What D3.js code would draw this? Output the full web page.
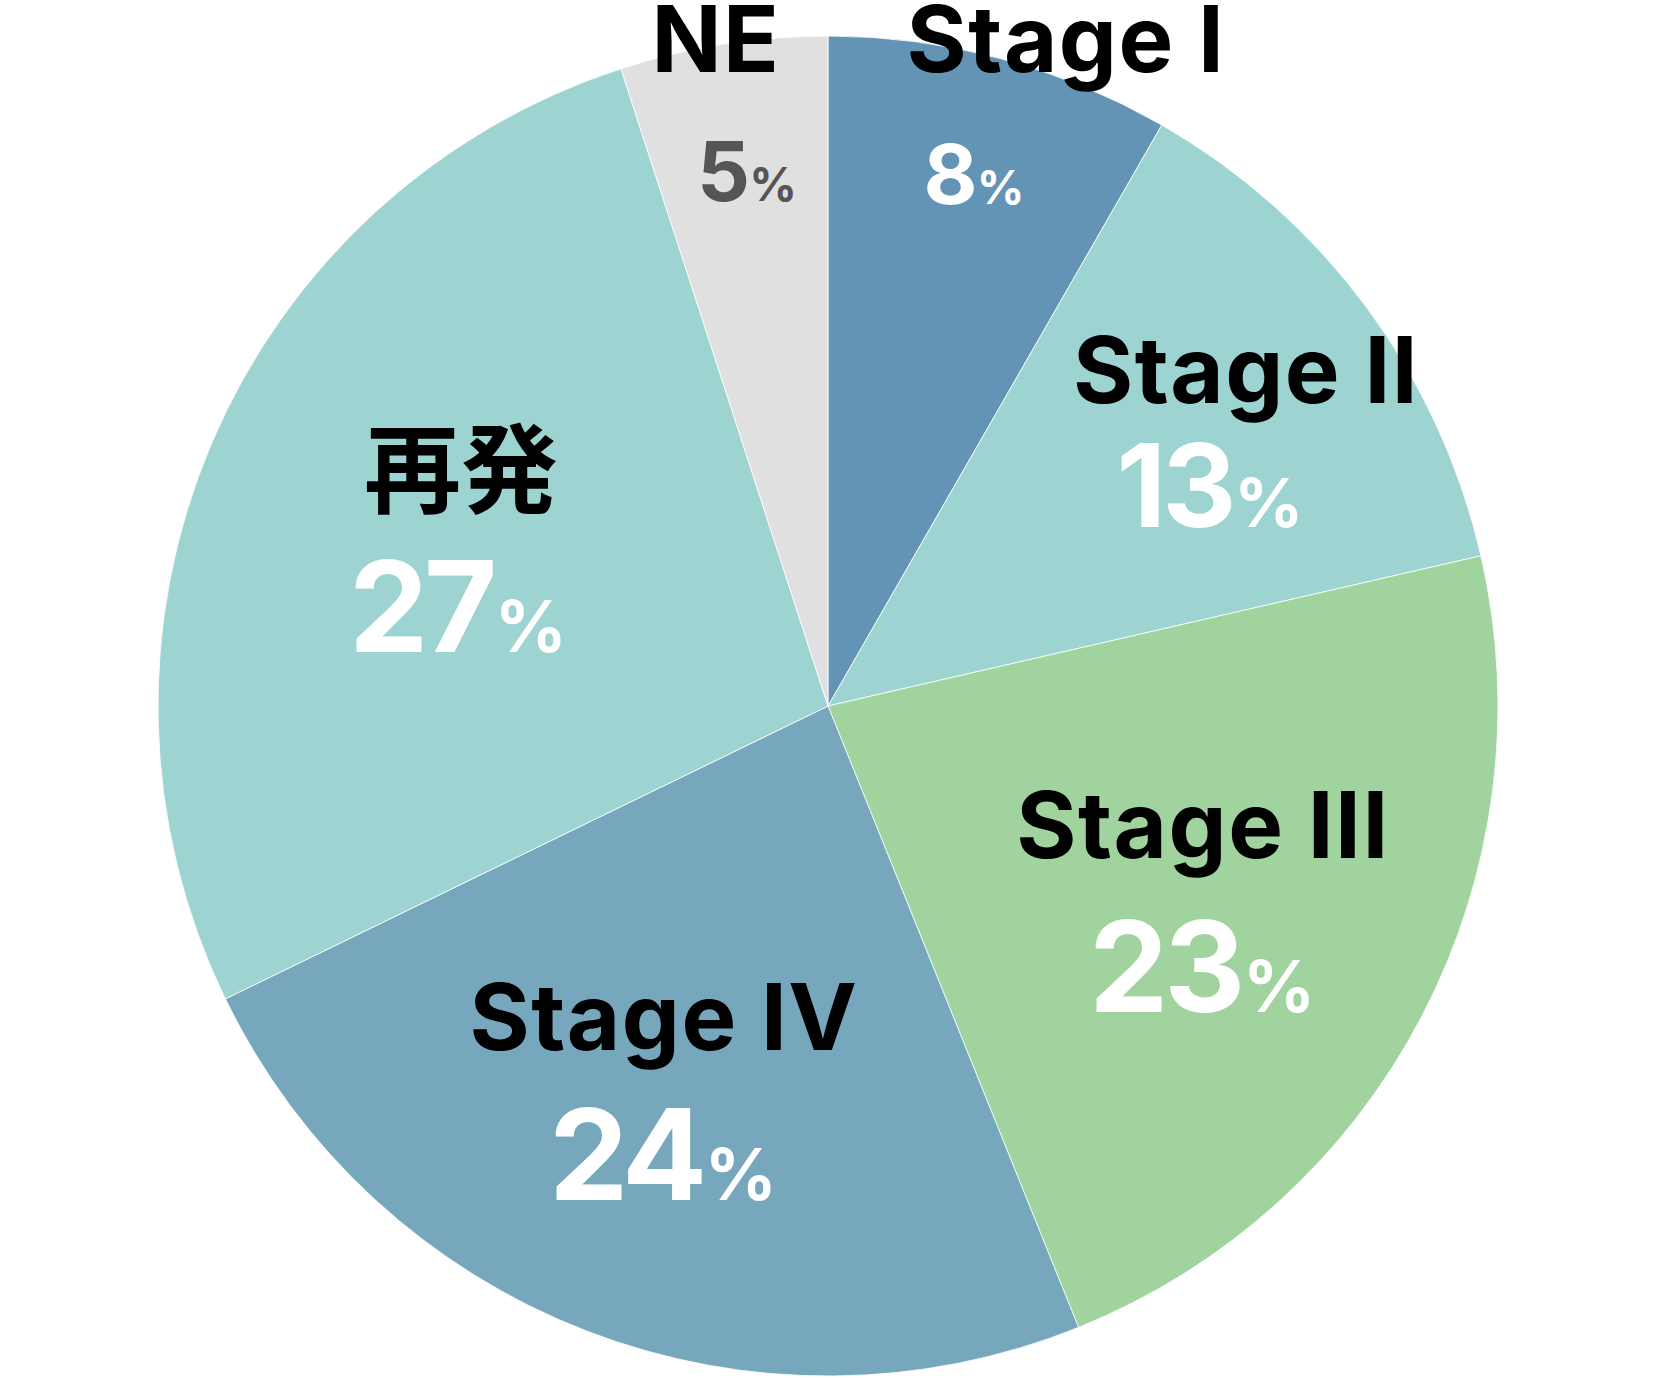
<!DOCTYPE html>
<html>
<head>
<meta charset="utf-8">
<script src="https://cdn.jsdelivr.net/npm/d3@7"></script>
<style>
    body { margin: 0; background: #fff; }
    text { font-family: Inter, "Noto Sans", sans-serif; font-weight: 700; }
    .cjk { font-family: "Noto Sans CJK JP", sans-serif; }
</style>
</head>
<body>
<div id="pie"></div>
<script>
const dimensions = {
    width: 1657,
    height: 1378
};

// data
const categories = ['Stage I', 'Stage II', 'Stage III', 'Stage IV', '再発', 'NE'];
const values = [8.3, 13.1, 22.5, 23.9, 27.2, 5.0];
const pctLabels = ['8', '13', '23', '24', '27', '5'];
const colors = ['#6393b5', '#9dd3d0', '#a1d39f', '#76a7bd', '#9dd3d0', '#e0e0e0'];

// label layout: name baseline and percent baseline, relative to centre
const labelLayout = [
    { name: [238, -634], pct: [146, -502], nameSize: 92, numSize: 83, pctSize: 47, pctColor: '#fff' },
    { name: [418, -303], pct: [382, -179], nameSize: 92, numSize: 115, pctSize: 68, pctColor: '#fff' },
    { name: [375, 152], pct: [374, 306], nameSize: 92, numSize: 126, pctSize: 71, pctColor: '#fff' },
    { name: [-164, 344], pct: [-165, 494], nameSize: 92, numSize: 126, pctSize: 71, pctColor: '#fff' },
    { name: [-367, -201], pct: [-370, -54], nameSize: 97, numSize: 126, pctSize: 71, pctColor: '#fff' },
    { name: [-112, -634], pct: [-81, -505], nameSize: 92, numSize: 83, pctSize: 47, pctColor: '#555' }
];

const center = { x: 828, y: 706 };
const radius = 670;

const svg = d3.select('#pie')
    .append('svg')
    .attr('width', dimensions.width)
    .attr('height', dimensions.height);

const graph = svg.append('g')
    .attr('transform', `translate(${center.x}, ${center.y})`);

const pie = d3.pie()
    .sort(null)
    .value(d => d.value);

const arc = d3.arc()
    .innerRadius(0)
    .outerRadius(radius);

const data = categories.map((c, i) => ({
    name: c,
    value: values[i],
    pct: pctLabels[i],
    color: colors[i],
    layout: labelLayout[i]
}));

// slices
graph.selectAll('path')
    .data(pie(data))
    .enter()
    .append('path')
        .attr('d', arc)
        .attr('fill', d => d.data.color)
        .attr('stroke', '#fff')
        .attr('stroke-width', 0.8);

// category names
graph.selectAll('.name')
    .data(data)
    .enter()
    .append('text')
        .attr('class', d => /[^\x00-\x7f]/.test(d.name) ? 'name cjk' : 'name')
        .attr('x', d => d.layout.name[0])
        .attr('y', d => d.layout.name[1])
        .attr('text-anchor', 'middle')
        .attr('fill', '#000')
        .style('font-size', d => d.layout.nameSize + 'px')
        .style('letter-spacing', d => /[^\x00-\x7f]/.test(d.name) ? '0px' : '1.5px')
        .text(d => d.name);

// percentages
const pcts = graph.selectAll('.pct')
    .data(data)
    .enter()
    .append('text')
        .attr('class', 'pct')
        .attr('x', d => d.layout.pct[0])
        .attr('y', d => d.layout.pct[1])
        .attr('text-anchor', 'middle')
        .attr('fill', d => d.layout.pctColor);

pcts.append('tspan')
    .style('font-size', d => d.layout.numSize + 'px')
    .style('letter-spacing', d => (-d.layout.numSize * 0.035) + 'px')
    .text(d => d.pct);

pcts.append('tspan')
    .attr('dx', 2)
    .style('font-size', d => d.layout.pctSize + 'px')
    .text('%');
</script>
</body>
</html>
